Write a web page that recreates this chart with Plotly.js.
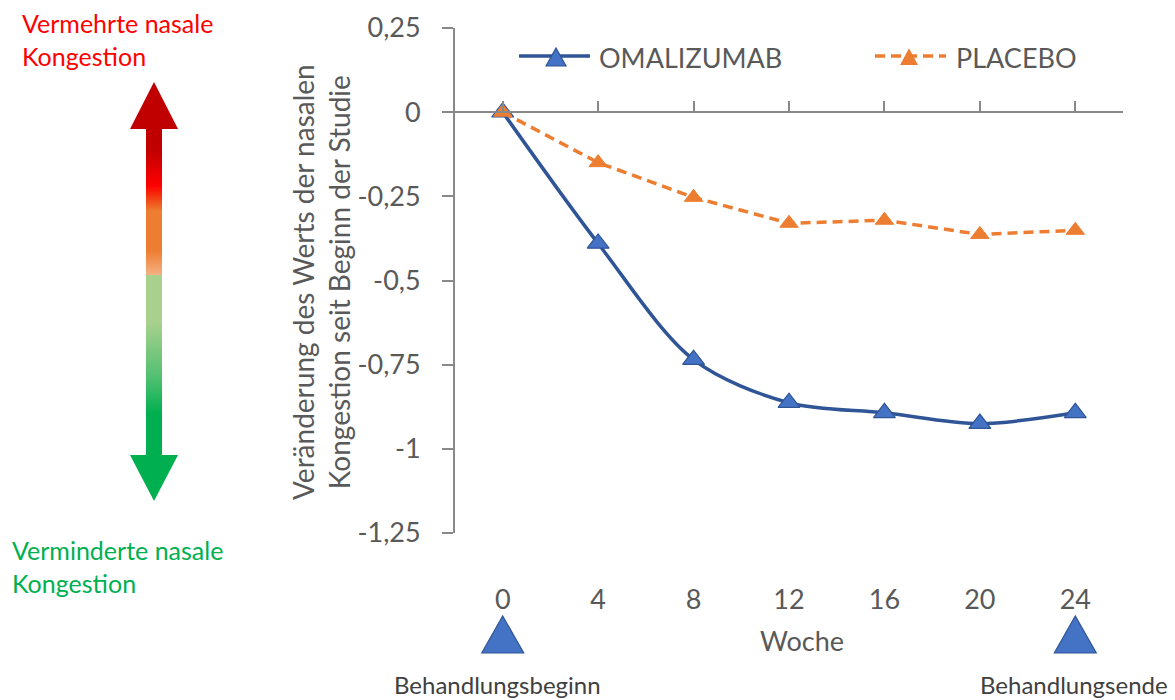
<!DOCTYPE html>
<html>
<head>
<meta charset="utf-8">
<script src="https://cdn.plot.ly/plotly-3.0.1.min.js"></script>
<style>html,body{margin:0;padding:0;background:#fff;}#chart{width:1175px;height:700px;}</style>
</head>
<body>
<div id="chart"></div>
<script>
// ---- data ----
var weeks = [0, 4, 8, 12, 16, 20, 24];
var omalizumab = [0, -0.39, -0.735, -0.863, -0.893, -0.925, -0.893];
var placebo = [0, -0.15, -0.253, -0.33, -0.321, -0.363, -0.351];
var yTickVals = [0.25, 0, -0.25, -0.5, -0.75, -1, -1.25];
var yTickText = ['0,25', '0', '-0,25', '-0,5', '-0,75', '-1', '-1,25'];
var xTickText = ['0', '4', '8', '12', '16', '20', '24'];
var seriesNames = ['OMALIZUMAB', 'PLACEBO'];

// ---- geometry helpers (pixel -> paper) ----
var W = 1175, H = 700;
var mL = 455, mR = 52, mT = 28, mB = 167;
var pw = W - mL - mR, ph = H - mT - mB;
function px(x){ return (x - mL) / pw; }
function py(y){ return (H - mB - y) / ph; }

var FONT = 'Lato, "Open Sans", sans-serif';
var BLUE = '#2f5597', BLUEFILL = '#4472c4', ORANGE = '#ed7d31';

// gradient arrow as svg image
var svg = '<svg xmlns="http://www.w3.org/2000/svg" width="1175" height="700" viewBox="0 0 1175 700">' +
  '<defs><linearGradient id="g" x1="0" y1="83" x2="0" y2="502" gradientUnits="userSpaceOnUse">' +
  '<stop offset="0" stop-color="#c00000"/>' +
  '<stop offset="0.16" stop-color="#c00000"/>' +
  '<stop offset="0.245" stop-color="#ff0000"/>' +
  '<stop offset="0.265" stop-color="#f52a0a"/>' +
  '<stop offset="0.305" stop-color="#ed7d31"/>' +
  '<stop offset="0.40" stop-color="#ed7d31"/>' +
  '<stop offset="0.458" stop-color="#f4b183"/>' +
  '<stop offset="0.459" stop-color="#a9d18e"/>' +
  '<stop offset="0.57" stop-color="#a9d18e"/>' +
  '<stop offset="0.70" stop-color="#53c072"/>' +
  '<stop offset="0.79" stop-color="#00b050"/>' +
  '<stop offset="1" stop-color="#00b050"/>' +
  '</linearGradient></defs>' +
  '<path d="M154,82 L178,129 L162,129 L162,455 L178,455 L154,501 L130,455 L146,455 L146,129 L130,129 Z" fill="url(#g)"/>' +
  '</svg>';
var svgURI = 'data:image/svg+xml;base64,' + btoa(svg);

var traces = [
  {
    x: weeks, y: omalizumab, name: seriesNames[0], type: 'scatter', mode: 'lines+markers',
    line: {color: BLUE, width: 3.5, shape: 'spline', smoothing: 0.9},
    marker: {symbol: 'triangle-up', size: 19, color: BLUEFILL, line: {color: BLUE, width: 1.2}},
    cliponaxis: false, showlegend: false
  },
  {
    x: weeks, y: placebo, name: seriesNames[1], type: 'scatter', mode: 'lines+markers',
    xaxis: 'x2',
    line: {color: ORANGE, width: 3.5, dash: '10px,6px'},
    marker: {symbol: 'triangle-up', size: 16, color: ORANGE, line: {color: ORANGE, width: 1}},
    cliponaxis: false, showlegend: false
  }
];

var shapes = [];
// custom legend lines
shapes.push({type:'line', xref:'paper', yref:'paper', x0:px(519), x1:px(590), y0:py(56), y1:py(56), line:{color:BLUE, width:3.5}});
shapes.push({type:'line', xref:'paper', yref:'paper', x0:px(875), x1:px(946), y0:py(56), y1:py(56), line:{color:ORANGE, width:3.5, dash:'10px,6px'}});
// legend triangles
function tri(cx, cy, hw, h, fill, edge){
  return {type:'path', xref:'paper', yref:'paper',
    path: 'M'+px(cx-hw)+','+py(cy+h/2)+' L'+px(cx)+','+py(cy-h/2)+' L'+px(cx+hw)+','+py(cy+h/2)+' Z',
    fillcolor: fill, line:{color: edge, width: 1.2}};
}
shapes.push(tri(556, 57, 10, 18, BLUEFILL, BLUE));
shapes.push(tri(909, 57, 8, 15, ORANGE, ORANGE));
// bottom markers for treatment start / end
var treatWeeks = [weeks[0], weeks[weeks.length-1]];
var xUnitPerPx = 28 / pw;
treatWeeks.forEach(function(w){
  var hw = 21 * xUnitPerPx;
  shapes.push({type:'path', xref:'x', yref:'paper',
    path: 'M'+(w-hw)+','+py(653)+' L'+w+','+py(616)+' L'+(w+hw)+','+py(653)+' Z',
    fillcolor: BLUEFILL, line:{color: BLUE, width: 1.2}});
});

var annotations = [
  {text: seriesNames[0], xref:'paper', yref:'paper', x:px(597), y:py(57), xanchor:'left', yanchor:'middle', showarrow:false, font:{family:FONT, size:27, color:'#595959'}},
  {text: seriesNames[1], xref:'paper', yref:'paper', x:px(954), y:py(57), xanchor:'left', yanchor:'middle', showarrow:false, font:{family:FONT, size:27, color:'#595959'}},
  {text: 'Veränderung des Werts der nasalen<br>Kongestion seit Beginn der Studie', xref:'paper', yref:'paper', x:px(321), y:py(282), xanchor:'center', yanchor:'middle', textangle:-90, showarrow:false, align:'center', font:{family:FONT, size:28, color:'#595959'}},
  {text: 'Woche', xref:'paper', yref:'paper', x:px(802), y:py(640), xanchor:'center', yanchor:'middle', showarrow:false, font:{family:FONT, size:27, color:'#595959'}},
  {text: 'Behandlungsbeginn', xref:'paper', yref:'paper', x:px(497), y:py(684), xanchor:'center', yanchor:'middle', showarrow:false, font:{family:FONT, size:24, color:'#404040'}},
  {text: 'Behandlungsende', xref:'paper', yref:'paper', x:px(1170), y:py(684), xanchor:'right', yanchor:'middle', showarrow:false, font:{family:FONT, size:24, color:'#404040'}},
  {text: 'Vermehrte nasale<br>Kongestion', xref:'paper', yref:'paper', x:px(20), y:py(6), xanchor:'left', yanchor:'top', align:'left', showarrow:false, font:{family:FONT, size:25, color:'#ff0000'}},
  {text: 'Verminderte nasale<br>Kongestion', xref:'paper', yref:'paper', x:px(10), y:py(533), xanchor:'left', yanchor:'top', align:'left', showarrow:false, font:{family:FONT, size:25, color:'#00b050'}}
];

var layout = {
  width: W, height: H,
  margin: {l: mL, r: mR, t: mT, b: mB, pad: 0},
  paper_bgcolor: '#ffffff', plot_bgcolor: 'rgba(0,0,0,0)',
  font: {family: FONT, color: '#595959'},
  showlegend: false,
  xaxis: {
    range: [-2, 26], showline: false, showgrid: false, zeroline: false,
    tickvals: weeks, ticktext: xTickText, ticks: '', ticklabelstandoff: 48,
    tickfont: {family: FONT, size: 27, color: '#595959'}, fixedrange: true
  },
  xaxis2: {
    overlaying: 'x', anchor: 'free', position: (0 - (-1.25)) / 1.5,
    range: [-2, 26], showline: true, linecolor: '#898989', linewidth: 2,
    showgrid: false, zeroline: false, tickvals: weeks, ticks: 'inside', ticklen: 10, tickwidth: 2, tickcolor: '#898989',
    showticklabels: false, fixedrange: true
  },
  yaxis: {
    range: [-1.25, 0.25], showline: true, linecolor: '#898989', linewidth: 2,
    showgrid: false, zeroline: false, tickvals: yTickVals, ticktext: yTickText,
    ticks: 'outside', ticklen: 11, tickwidth: 2, tickcolor: '#898989', ticklabelstandoff: 16,
    tickfont: {family: FONT, size: 27, color: '#595959'}, fixedrange: true
  },
  images: [{source: svgURI, xref:'paper', yref:'paper', x: px(0), y: py(0), sizex: W/pw, sizey: H/ph, xanchor:'left', yanchor:'top', sizing:'stretch', layer:'below'}],
  shapes: shapes,
  annotations: annotations
};

Plotly.newPlot('chart', traces, layout, {displayModeBar: false, staticPlot: true});
</script>
</body>
</html>
